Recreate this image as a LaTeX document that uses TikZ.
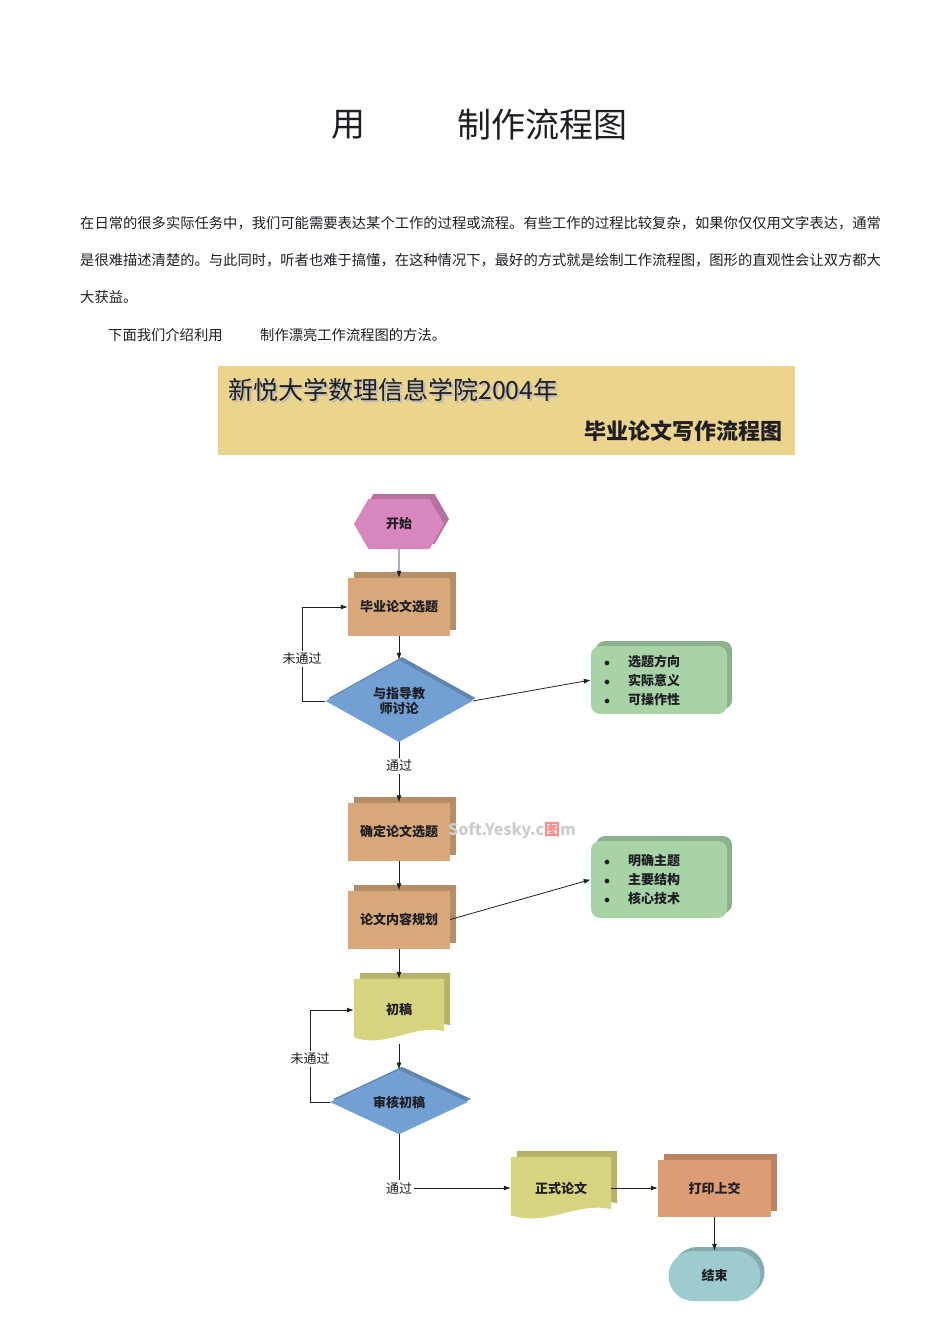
\documentclass[tikz,border=0pt]{standalone}
\usepackage{fontspec}
\setmainfont{Noto Sans CJK SC}
\usetikzlibrary{arrows.meta,backgrounds,shadows,shapes.geometric,shapes.misc,shapes.symbols}
\definecolor{Ink}{HTML}{1E1E24}
\definecolor{Banner}{HTML}{EBD48E}
\definecolor{Pink}{HTML}{D886BE}
\definecolor{Tan}{HTML}{D8A87B}
\definecolor{Rust}{HTML}{DC9C74}
\definecolor{Sky}{HTML}{72A0D2}
\definecolor{Sage}{HTML}{A8D3A7}
\definecolor{Olive}{HTML}{D7D480}
\definecolor{Aqua}{HTML}{9DCBCE}
\tikzset{
  solid3d/.style 2 args={
    fill=#1, drop shadow={shadow xshift=#2, shadow yshift=#2, opacity=1, fill=#1!84!black}
  },
  boxtext/.style={font=\bfseries\fontsize{13pt}{15pt}\selectfont, text=Ink, inner sep=0pt},
  terminal/.style={boxtext, shape=signal, signal to=east and west, signal pointer angle=120,
    solid3d={Pink}{5pt}, minimum width=90pt, minimum height=50pt},
  process/.style={boxtext, solid3d={#1}{6pt}, minimum width=102pt, minimum height=58pt},
  decision/.style={boxtext, diamond, solid3d={Sky}{3pt}, align=center},
  docshape/.style={boxtext, minimum width=#1, minimum height=62pt},
  notebox/.style={font=\bfseries\fontsize{13pt}{19pt}\selectfont, text=Ink, rounded corners=9pt,
    solid3d={Sage}{5pt}, minimum width=136pt, text width=110pt, inner sep=0pt, align=left},
  finish/.style={boxtext, rounded rectangle, solid3d={Aqua}{4pt}, minimum width=92pt, minimum height=50pt},
  remark/.style={fill=white, inner sep=2pt, font=\fontsize{13pt}{13pt}\selectfont, text=Ink},
  body/.style={anchor=west, inner sep=0pt, font=\fontsize{14.3pt}{14.3pt}\selectfont, text=Ink},
  stamp/.style={font=\bfseries\fontsize{16pt}{16pt}\selectfont, text=gray!40},
  flow/.style={-{Latex[length=7pt,width=5pt]}, draw=Ink, line width=0.8pt},
  plain/.style={draw=Ink, line width=0.8pt}
}
\newcommand{\itembullet}{\makebox[24pt][l]{$\bullet$}}

\begin{document}
\begin{tikzpicture}[x=1pt,y=-1pt]
    \useasboundingbox (0,0) rectangle (950,1344);
    \node[font=\fontsize{34pt}{34pt}\selectfont, text=Ink] (use) at (348,125) {用};
    \node[font=\fontsize{34pt}{34pt}\selectfont, text=Ink, anchor=west, inner sep=0pt] (title) at (457,125) {制作流程图};
    \node[body] (line1) at (80,223) {在日常的很多实际任务中，我们可能需要表达某个工作的过程或流程。有些工作的过程比较复杂，如果你仅仅用文字表达，通常};
    \node[body] (line2) at (80,260) {是很难描述清楚的。与此同时，听者也难于搞懂，在这种情况下，最好的方式就是绘制工作流程图，图形的直观性会让双方都大};
    \node[body] (line3) at (80,297) {大获益。};
    \node[body] (line4a) at (108,335) {下面我们介绍利用};
    \node[body] (line4b) at (260,335) {制作漂亮工作流程图的方法。};

    \node[fill=Banner, minimum width=577pt, minimum height=89pt] (banner) at (506.5,410.5) {};
    \node[anchor=west, inner sep=0pt, text=gray!55, font=\fontsize{25pt}{25pt}\selectfont] (orgshade) at (230,392) {新悦大学数理信息学院2004年};
    \node[anchor=west, inner sep=0pt, text=Ink, font=\fontsize{25pt}{25pt}\selectfont] (org) at (228,390) {新悦大学数理信息学院2004年};
    \node[anchor=east, inner sep=0pt, text=Ink, font=\bfseries\fontsize{22pt}{22pt}\selectfont] (heading) at (783,431) {毕业论文写作流程图};

    \node[terminal] (start) at (399,524) {开始};
    \node[process=Tan] (topic) at (399,607) {毕业论文选题};
    \node[decision, minimum width=147pt, minimum height=82pt] (talk) at (399,701) {与指导教\\师讨论};
    \node[notebox, minimum height=68pt] (aims) at (659,680) {\itembullet 选题方向\\\itembullet 实际意义\\\itembullet 可操作性};
    \node[remark] (fail1) at (302,659) {未通过};
    \node[remark] (pass1) at (399,766) {通过};
    \node[process=Tan] (fix) at (399,831.5) {确定论文选题};
    \node[process=Tan] (plan) at (399,919.5) {论文内容规划};
    \node[notebox, minimum height=77pt] (parts) at (659,879.5) {\itembullet 明确主题\\\itembullet 主要结构\\\itembullet 核心技术};
    \node[docshape=90pt] (draft) at (399,1010) {初稿};
    \node[decision, minimum width=138pt, minimum height=61pt] (check) at (399,1102) {审核初稿};
    \node[remark] (fail2) at (310,1059) {未通过};
    \node[remark] (pass2) at (399,1188) {通过};
    \node[docshape=100pt] (final) at (561,1188) {正式论文};
    \node[process=Rust, minimum width=113pt, minimum height=57pt] (print) at (714.5,1188) {打印上交};
    \node[finish] (end) at (714.5,1276) {结束};
    \node[stamp] (wm) at (512,831) {Soft.Yesky.c\textcolor{red!45}{图}m};

    \begin{scope}[on background layer]
      \fill[solid3d={Olive}{6pt}] (draft.north west) -- (draft.north east) -- ([yshift=10pt]draft.south east)
        .. controls ([xshift=-30pt,yshift=18pt]draft.south east) and ([xshift=32pt,yshift=-8pt]draft.south west)
        .. ([yshift=4pt]draft.south west) -- cycle;
      \fill[solid3d={Olive}{6pt}] (final.north west) -- (final.north east) -- ([yshift=10pt]final.south east)
        .. controls ([xshift=-34pt,yshift=18pt]final.south east) and ([xshift=36pt,yshift=-8pt]final.south west)
        .. ([yshift=4pt]final.south west) -- cycle;
    \end{scope}

    \draw[flow] (start) -- (topic);
    \draw[flow] (topic) -- (talk);
    \draw[flow] (talk.east) -- (aims.west);
    \draw[plain] (talk.west) -| (fail1.south);
    \draw[flow] (fail1.north) |- (topic.west);
    \draw[plain] (talk.south) -- (pass1.north);
    \draw[flow] (pass1.south) -- (fix.north);
    \draw[flow] (fix) -- (plan);
    \draw[flow] (plan.east) -- (parts.west);
    \draw[flow] (plan.south) -- (draft.north);
    \draw[flow] ([yshift=-3pt]draft.south) -- (check.north);
    \draw[plain] (check.west) -| (fail2.south);
    \draw[flow] (fail2.north) |- (draft.west);
    \draw[plain] (check.south) -- (pass2.north);
    \draw[flow] (pass2.east) -- (final.west);
    \draw[flow] (final.east) -- (print.west);
    \draw[flow] (print.south) -- (end.north);
  \end{tikzpicture}
\end{document}
